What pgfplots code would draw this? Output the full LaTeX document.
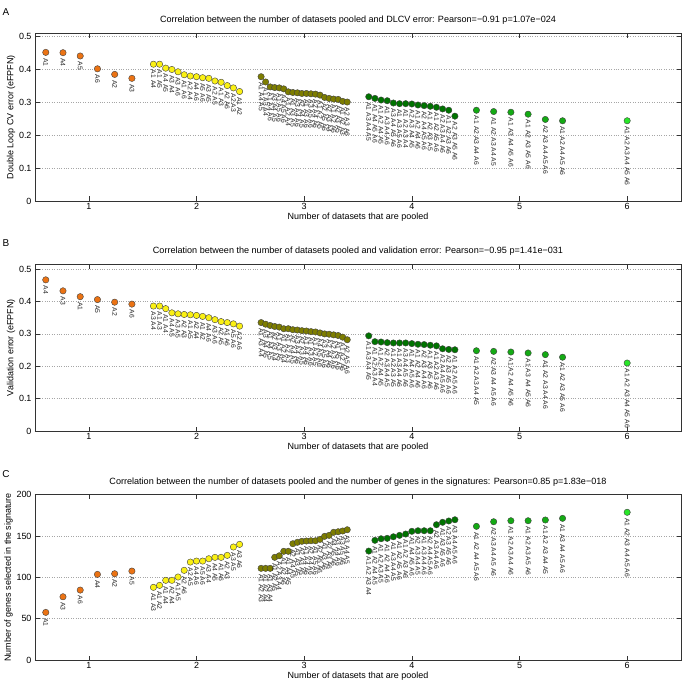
\documentclass[border=0pt]{standalone}
\usepackage{fontspec}
\setmainfont{Liberation Sans}
\usepackage{pgfplots}
\usepackage{pgfplotstable}
\pgfplotsset{compat=1.18}
\definecolor{cOne}{RGB}{235,115,20}
\definecolor{cTwo}{RGB}{250,240,20}
\definecolor{cThree}{RGB}{125,125,0}
\definecolor{cFour}{RGB}{0,115,0}
\definecolor{cFive}{RGB}{20,170,20}
\definecolor{cSix}{RGB}{40,230,40}

% ---------------- Panel A ----------------
\pgfplotstableread[col sep=comma,row sep=\\]{
x,y,l\\
0.60,0.452,A1\\
0.76,0.451,A4\\
0.92,0.441,A5\\
1.08,0.402,A6\\
1.24,0.385,A2\\
1.40,0.373,A3\\
}\Aone
\pgfplotstableread[col sep=comma,row sep=\\]{
x,y,l\\
1.6000,0.416,A1 A4\\
1.6571,0.416,A1 A5\\
1.7143,0.404,A4 A5\\
1.7714,0.400,A3 A4\\
1.8286,0.393,A3 A6\\
1.8857,0.384,A1 A6\\
1.9429,0.380,A2 A4\\
2.0000,0.378,A4 A6\\
2.0571,0.375,A5 A6\\
2.1143,0.373,A3 A5\\
2.1714,0.365,A2 A5\\
2.2286,0.361,A1 A3\\
2.2857,0.351,A2 A6\\
2.3429,0.344,A2 A3\\
2.4000,0.333,A1 A2\\
}\Atwo
\pgfplotstableread[col sep=comma,row sep=\\]{
x,y,l\\
2.6000,0.378,A1 A4 A5\\
2.6421,0.362,A1 A3 A4\\
2.6842,0.347,A1 A4 A6\\
2.7263,0.345,A3 A4 A5\\
2.7684,0.344,A1 A5 A6\\
2.8105,0.341,A4 A5 A6\\
2.8526,0.332,A1 A2 A4\\
2.8947,0.330,A1 A3 A5\\
2.9368,0.329,A3 A4 A6\\
2.9789,0.327,A2 A4 A5\\
3.0211,0.327,A1 A3 A6\\
3.0632,0.326,A3 A5 A6\\
3.1053,0.325,A2 A4 A6\\
3.1474,0.322,A1 A2 A5\\
3.1895,0.315,A2 A5 A6\\
3.2316,0.312,A2 A3 A4\\
3.2737,0.310,A1 A2 A6\\
3.3158,0.309,A2 A3 A5\\
3.3579,0.303,A1 A2 A3\\
3.4000,0.301,A2 A3 A6\\
}\Athree
\pgfplotstableread[col sep=comma,row sep=\\]{
x,y,l\\
3.6000,0.317,A1 A3 A4 A5\\
3.6571,0.312,A1 A4 A5 A6\\
3.7143,0.307,A1 A2 A4 A5\\
3.7714,0.305,A1 A3 A4 A6\\
3.8286,0.298,A3 A4 A5 A6\\
3.8857,0.296,A1 A3 A5 A6\\
3.9429,0.296,A1 A2 A3 A4\\
4.0000,0.295,A2 A3 A4 A5\\
4.0571,0.292,A1 A2 A4 A6\\
4.1143,0.290,A2 A4 A5 A6\\
4.1714,0.288,A1 A2 A3 A5\\
4.2286,0.285,A1 A2 A5 A6\\
4.2857,0.280,A2 A3 A4 A6\\
4.3429,0.276,A1 A2 A3 A6\\
4.4000,0.258,A2 A3 A5 A6\\
}\Afour
\pgfplotstableread[col sep=comma,row sep=\\]{
x,y,l\\
4.60,0.276,A1 A2 A3 A4 A6\\
4.76,0.272,A1 A2 A3 A4 A5\\
4.92,0.270,A1 A3 A4 A5 A6\\
5.08,0.264,A1 A2 A3 A5 A6\\
5.24,0.248,A2 A3 A4 A5 A6\\
5.40,0.244,A1 A2 A4 A5 A6\\
}\Afive
\pgfplotstableread[col sep=comma,row sep=\\]{
x,y,l\\
6.00,0.244,A1 A2 A3 A4 A5 A6\\
}\Asix

% ---------------- Panel B ----------------
\pgfplotstableread[col sep=comma,row sep=\\]{
x,y,l\\
0.60,0.467,A4\\
0.76,0.433,A3\\
0.92,0.415,A1\\
1.08,0.406,A5\\
1.24,0.398,A2\\
1.40,0.392,A6\\
}\Bone
\pgfplotstableread[col sep=comma,row sep=\\]{
x,y,l\\
1.6000,0.386,A3 A4\\
1.6571,0.386,A1 A3\\
1.7143,0.378,A1 A4\\
1.7714,0.365,A4 A5\\
1.8286,0.362,A3 A5\\
1.8857,0.360,A2 A3\\
1.9429,0.359,A1 A5\\
2.0000,0.357,A2 A4\\
2.0571,0.354,A1 A2\\
2.1143,0.350,A4 A6\\
2.1714,0.344,A3 A6\\
2.2286,0.338,A2 A5\\
2.2857,0.335,A1 A6\\
2.3429,0.331,A5 A6\\
2.4000,0.324,A2 A6\\
}\Btwo
\pgfplotstableread[col sep=comma,row sep=\\]{
x,y,l\\
2.6000,0.335,A1 A3 A4\\
2.6421,0.330,A3 A4 A5\\
2.6842,0.326,A1 A4 A5\\
2.7263,0.323,A2 A3 A4\\
2.7684,0.321,A1 A3 A5\\
2.8105,0.316,A1 A2 A4\\
2.8526,0.316,A1 A2 A3\\
2.8947,0.313,A2 A4 A5\\
2.9368,0.312,A3 A4 A6\\
2.9789,0.310,A2 A3 A5\\
3.0211,0.309,A1 A4 A6\\
3.0632,0.307,A1 A3 A6\\
3.1053,0.306,A1 A2 A5\\
3.1474,0.303,A4 A5 A6\\
3.1895,0.300,A3 A5 A6\\
3.2316,0.299,A2 A4 A6\\
3.2737,0.297,A2 A3 A6\\
3.3158,0.295,A1 A5 A6\\
3.3579,0.290,A1 A2 A6\\
3.4000,0.282,A2 A5 A6\\
}\Bthree
\pgfplotstableread[col sep=comma,row sep=\\]{
x,y,l\\
3.6000,0.294,A1 A3 A4 A5\\
3.6571,0.276,A1 A2 A3 A4\\
3.7143,0.275,A1 A2 A4 A5\\
3.7714,0.273,A2 A3 A4 A5\\
3.8286,0.272,A1 A2 A3 A5\\
3.8857,0.272,A1 A3 A4 A6\\
3.9429,0.272,A3 A4 A5 A6\\
4.0000,0.270,A1 A4 A5 A6\\
4.0571,0.268,A1 A2 A4 A6\\
4.1143,0.267,A2 A3 A4 A6\\
4.1714,0.265,A1 A3 A5 A6\\
4.2286,0.263,A1 A2 A3 A6\\
4.2857,0.254,A2 A4 A5 A6\\
4.3429,0.252,A2 A3 A5 A6\\
4.4000,0.251,A1 A2 A5 A6\\
}\Bfour
\pgfplotstableread[col sep=comma,row sep=\\]{
x,y,l\\
4.60,0.248,A1 A2 A3 A4 A5\\
4.76,0.246,A2 A3 A4 A5 A6\\
4.92,0.244,A1 A2 A4 A5 A6\\
5.08,0.241,A1 A3 A4 A5 A6\\
5.24,0.236,A1 A2 A3 A4 A6\\
5.40,0.228,A1 A2 A3 A5 A6\\
}\Bfive
\pgfplotstableread[col sep=comma,row sep=\\]{
x,y,l\\
6.00,0.210,A1 A2 A3 A4 A5 A6\\
}\Bsix

% ---------------- Panel C ----------------
\pgfplotstableread[col sep=comma,row sep=\\]{
x,y,l\\
0.60,57.6,A1\\
0.76,76.5,A3\\
0.92,84.6,A6\\
1.08,103.6,A4\\
1.24,104.4,A2\\
1.40,107.6,A5\\
}\Cone
\pgfplotstableread[col sep=comma,row sep=\\]{
x,y,l\\
1.6000,87.9,A1 A3\\
1.6571,90.3,A1 A2\\
1.7143,96.4,A1 A4\\
1.7714,96.4,A2 A4\\
1.8286,100.4,A1 A5\\
1.8857,108.5,A2 A6\\
1.9429,118.5,A2 A5\\
2.0000,119.7,A4 A6\\
2.0571,119.7,A5 A6\\
2.1143,122.5,A3 A4\\
2.1714,124.2,A4 A5\\
2.2286,124.2,A1 A6\\
2.2857,126.6,A2 A3\\
2.3429,136.7,A3 A5\\
2.4000,139.9,A3 A6\\
}\Ctwo
\pgfplotstableread[col sep=comma,row sep=\\]{
x,y,l\\
2.6000,110.9,A1 A2 A3\\
2.6421,110.9,A1 A2 A4\\
2.6842,110.9,A1 A3 A4\\
2.7263,124.2,A1 A2 A5\\
2.7684,126.1,A2 A3 A4\\
2.8105,131.5,A1 A2 A6\\
2.8526,131.5,A1 A4 A5\\
2.8947,140.7,A2 A4 A5\\
2.9368,142.4,A1 A3 A5\\
2.9789,143.6,A2 A3 A5\\
3.0211,144.0,A1 A4 A6\\
3.0632,144.3,A2 A4 A6\\
3.1053,144.3,A1 A5 A6\\
3.1474,146.0,A2 A5 A6\\
3.1895,149.6,A1 A3 A6\\
3.2316,150.8,A2 A3 A6\\
3.2737,154.5,A4 A5 A6\\
3.3158,155.2,A3 A4 A6\\
3.3579,156.1,A3 A5 A6\\
3.4000,157.6,A3 A4 A5\\
}\Cthree
\pgfplotstableread[col sep=comma,row sep=\\]{
x,y,l\\
3.6000,131.8,A1 A2 A3 A4\\
3.6571,144.8,A1 A2 A4 A5\\
3.7143,146.7,A1 A2 A3 A5\\
3.7714,147.2,A1 A2 A4 A6\\
3.8286,149.1,A1 A3 A4 A5\\
3.8857,150.8,A1 A2 A5 A6\\
3.9429,152.4,A1 A2 A3 A6\\
4.0000,155.7,A1 A4 A5 A6\\
4.0571,156.4,A2 A3 A4 A5\\
4.1143,156.4,A1 A3 A4 A6\\
4.1714,156.4,A2 A4 A5 A6\\
4.2286,163.7,A2 A3 A4 A6\\
4.2857,166.6,A1 A3 A5 A6\\
4.3429,168.2,A2 A3 A5 A6\\
4.4000,169.7,A3 A4 A5 A6\\
}\Cfour
\pgfplotstableread[col sep=comma,row sep=\\]{
x,y,l\\
4.60,161.7,A1 A2 A4 A5 A6\\
4.76,167.3,A2 A3 A4 A5 A6\\
4.92,168.5,A1 A2 A3 A4 A6\\
5.08,168.5,A1 A2 A3 A5 A6\\
5.24,169.4,A1 A2 A3 A4 A5\\
5.40,171.4,A1 A3 A4 A5 A6\\
}\Cfive
\pgfplotstableread[col sep=comma,row sep=\\]{
x,y,l\\
6.00,178.7,A1 A2 A3 A4 A5 A6\\
}\Csix

\pgfplotsset{
  panel/.style={
    scale only axis, width=646bp, clip=false,
    xmin=0.5, xmax=6.5, xtick={1,2,3,4,5,6},
    ymin=0,
    tick align=inside, major tick length=4.5bp,
    xtick pos=both, ytick pos=both,
    ymajorgrids, grid style={dotted, black!35, line width=0.5pt},
    axis line style={black!80, line width=0.5pt},
    every tick/.style={black!80, line width=0.5pt},
    /pgf/number format/assume math mode=true,
    ticklabel style={font=\fontsize{9}{10}\selectfont},
    xticklabel style={yshift=1bp},
    label style={font=\fontsize{9}{10}\selectfont},
    title style={font=\fontsize{9.1}{10}\selectfont, yshift=-1bp},
    xlabel={Number of datasets that are pooled},
    xlabel style={yshift=4bp},
    ylabel style={yshift=-3bp},
  },
  grp/.style={
    only marks, mark=*, mark size=3.2bp,
    mark options={fill=#1, draw=black!75, line width=0.4pt},
    point meta=explicit symbolic,
    nodes near coords,
    nodes near coords style={rotate=-90, anchor=west, inner xsep=5.5bp, inner ysep=0pt,
      font=\fontsize{6.8}{7}\selectfont, text=black!85},
  },
}

\begin{document}
\begin{tikzpicture}
\path[use as bounding box] (0,0) rectangle (685bp,-686bp);
% Panel A
\begin{axis}[panel, at={(35bp,-33.3bp)}, anchor=north west, height=167.7bp,
  ymax=0.51, ytick={0,0.1,0.2,0.3,0.4,0.5},
  yticklabels={0,0.1,0.2,0.3,0.4,0.5},
  ylabel={Double Loop CV error (eFPFN)},
  title={Correlation between the number of datasets pooled and DLCV error: Pearson=−0.91 p=1.07e−024}]
\addplot[grp=cOne] table[x=x,y=y,meta=l]{\Aone};
\addplot[grp=cTwo] table[x=x,y=y,meta=l]{\Atwo};
\addplot[grp=cThree] table[x=x,y=y,meta=l]{\Athree};
\addplot[grp=cFour] table[x=x,y=y,meta=l]{\Afour};
\addplot[grp=cFive] table[x=x,y=y,meta=l]{\Afive};
\addplot[grp=cSix] table[x=x,y=y,meta=l]{\Asix};
\end{axis}
% Panel B
\begin{axis}[panel, at={(35bp,-264.3bp)}, anchor=north west, height=166.7bp,
  ymax=0.515, ytick={0,0.1,0.2,0.3,0.4,0.5},
  yticklabels={0,0.1,0.2,0.3,0.4,0.5},
  ylabel={Validation error (eFPFN)},
  title={Correlation between the number of datasets pooled and validation error: Pearson=−0.95 p=1.41e−031}]
\addplot[grp=cOne] table[x=x,y=y,meta=l]{\Bone};
\addplot[grp=cTwo] table[x=x,y=y,meta=l]{\Btwo};
\addplot[grp=cThree] table[x=x,y=y,meta=l]{\Bthree};
\addplot[grp=cFour] table[x=x,y=y,meta=l]{\Bfour};
\addplot[grp=cFive] table[x=x,y=y,meta=l]{\Bfive};
\addplot[grp=cSix] table[x=x,y=y,meta=l]{\Bsix};
\end{axis}
% Panel C
\begin{axis}[panel, at={(35bp,-494.7bp)}, anchor=north west, height=165.3bp,
  ymax=200, ytick={0,50,100,150,200},
  ylabel={Number of genes selected in the signature},
  title={Correlation between the number of datasets pooled and the number of genes in the signatures: Pearson=0.85 p=1.83e−018}]
\addplot[grp=cOne] table[x=x,y=y,meta=l]{\Cone};
\addplot[grp=cTwo] table[x=x,y=y,meta=l]{\Ctwo};
\addplot[grp=cThree] table[x=x,y=y,meta=l]{\Cthree};
\addplot[grp=cFour] table[x=x,y=y,meta=l]{\Cfour};
\addplot[grp=cFive] table[x=x,y=y,meta=l]{\Cfive};
\addplot[grp=cSix] table[x=x,y=y,meta=l]{\Csix};
\end{axis}
\node[font=\fontsize{10}{11}\selectfont] at (6bp,-12bp) {A};
\node[font=\fontsize{10}{11}\selectfont] at (6bp,-243bp) {B};
\node[font=\fontsize{10}{11}\selectfont] at (6bp,-474bp) {C};
\end{tikzpicture}
\end{document}
